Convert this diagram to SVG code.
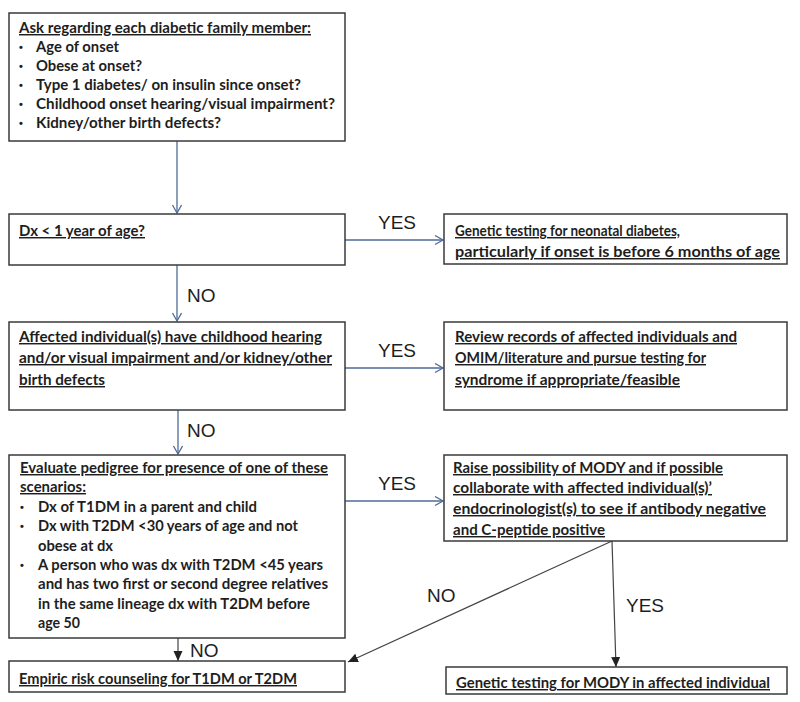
<svg xmlns="http://www.w3.org/2000/svg" width="800" height="702" viewBox="0 0 800 702">
<defs>
<style>
.box{fill:#fff;stroke:#3a3a3a;stroke-width:1.5}
.t{font-family:Lato,"Liberation Sans",sans-serif;font-weight:bold;font-size:14.5px;fill:#1e1e1e}
.b{font-family:"Liberation Sans",Arial,sans-serif;font-weight:bold;font-size:11px;fill:#1e1e1e}
.u{text-decoration:underline}
.lbl{font-family:"Liberation Sans",Arial,sans-serif;font-size:19px;fill:#1e1e1e}
.blue{stroke:#4f6b96;stroke-width:1.3;fill:none}
.dark{stroke:#444;stroke-width:1.2;fill:none}
</style>
<marker id="openA" markerUnits="userSpaceOnUse" markerWidth="12" markerHeight="12" refX="9" refY="5" orient="auto">
<path d="M1,0.5 L9,5 L1,9.5" fill="none" stroke="#4f6b96" stroke-width="1.3"/>
</marker>
<marker id="fillA" markerUnits="userSpaceOnUse" markerWidth="12" markerHeight="12" refX="10" refY="5" orient="auto">
<path d="M0,0.5 L10,5 L0,9.5 Z" fill="#222"/>
</marker>
</defs>
<rect width="800" height="702" fill="#fff"/>

<g id="connectors">
<line class="blue" x1="177" y1="141" x2="177" y2="213" marker-end="url(#openA)"/>
<line class="blue" x1="345" y1="240" x2="443" y2="240" marker-end="url(#openA)"/>
<line class="blue" x1="177" y1="265" x2="177" y2="321" marker-end="url(#openA)"/>
<line class="blue" x1="345" y1="368" x2="443" y2="368" marker-end="url(#openA)"/>
<line class="blue" x1="178" y1="410" x2="178" y2="454" marker-end="url(#openA)"/>
<line class="blue" x1="345" y1="501" x2="443" y2="501" marker-end="url(#openA)"/>
<line class="dark" x1="178" y1="638" x2="178" y2="661" marker-end="url(#fillA)"/>
<line class="dark" x1="612" y1="541" x2="348" y2="662" marker-end="url(#fillA)"/>
<line class="dark" x1="612" y1="541" x2="616" y2="667" marker-end="url(#fillA)"/>
<text class="lbl" x="378" y="229">YES</text>
<text class="lbl" x="378" y="357">YES</text>
<text class="lbl" x="378" y="490">YES</text>
<text class="lbl" x="187" y="302">NO</text>
<text class="lbl" x="187" y="437">NO</text>
<text class="lbl" x="190" y="657">NO</text>
<text class="lbl" x="427" y="602">NO</text>
<text class="lbl" x="626" y="612">YES</text>
</g>

<g id="n1">
<rect class="box" x="9" y="13" width="336" height="128"/>
<text class="t u" x="19" y="33" textLength="292" lengthAdjust="spacingAndGlyphs">Ask regarding each diabetic family member:</text>
<text class="b" x="19" y="51">•</text><text class="t" x="36" y="52" textLength="83" lengthAdjust="spacingAndGlyphs">Age of onset</text>
<text class="b" x="19" y="70">•</text><text class="t" x="36" y="71" textLength="106" lengthAdjust="spacingAndGlyphs">Obese at onset?</text>
<text class="b" x="19" y="89">•</text><text class="t" x="36" y="90" textLength="265" lengthAdjust="spacingAndGlyphs">Type 1 diabetes/ on insulin since onset?</text>
<text class="b" x="19" y="108">•</text><text class="t" x="36" y="109" textLength="299" lengthAdjust="spacingAndGlyphs">Childhood onset hearing/visual impairment?</text>
<text class="b" x="19" y="127">•</text><text class="t" x="36" y="128" textLength="185" lengthAdjust="spacingAndGlyphs">Kidney/other birth defects?</text>
</g>

<g id="n2">
<rect class="box" x="9" y="214" width="336" height="51"/>
<text class="t u" x="19" y="236" textLength="126" lengthAdjust="spacingAndGlyphs">Dx &lt; 1 year of age?</text>
</g>

<g id="n2r">
<rect class="box" x="444" y="214" width="343" height="50"/>
<text class="t u" x="455" y="236" textLength="225" lengthAdjust="spacingAndGlyphs">Genetic testing for neonatal diabetes,</text>
<text class="t u" x="455" y="257" textLength="325" lengthAdjust="spacingAndGlyphs">particularly if onset is before 6 months of age</text>
</g>

<g id="n3">
<rect class="box" x="9" y="322" width="336" height="88"/>
<text class="t u" x="19" y="342" textLength="303" lengthAdjust="spacingAndGlyphs">Affected individual(s) have childhood hearing</text>
<text class="t u" x="19" y="363" textLength="313" lengthAdjust="spacingAndGlyphs">and/or visual impairment and/or kidney/other</text>
<text class="t u" x="19" y="385" textLength="86" lengthAdjust="spacingAndGlyphs">birth defects</text>
</g>

<g id="n3r">
<rect class="box" x="444" y="322" width="343" height="88"/>
<text class="t u" x="455" y="342" textLength="282" lengthAdjust="spacingAndGlyphs">Review records of affected individuals and</text>
<text class="t u" x="455" y="363" textLength="251" lengthAdjust="spacingAndGlyphs">OMIM/literature and pursue testing for</text>
<text class="t u" x="455" y="385" textLength="225" lengthAdjust="spacingAndGlyphs">syndrome if appropriate/feasible</text>
</g>

<g id="n4">
<rect class="box" x="9" y="455" width="336" height="183"/>
<text class="t u" x="20" y="473" textLength="308" lengthAdjust="spacingAndGlyphs">Evaluate pedigree for presence of one of these</text>
<text class="t u" x="20" y="492" textLength="66" lengthAdjust="spacingAndGlyphs">scenarios:</text>
<text class="b" x="20" y="511">•</text><text class="t" x="38" y="512" textLength="219" lengthAdjust="spacingAndGlyphs">Dx of T1DM in a parent and child</text>
<text class="b" x="20" y="530">•</text><text class="t" x="38" y="531" textLength="260" lengthAdjust="spacingAndGlyphs">Dx with T2DM &lt;30 years of age and not</text>
<text class="t" x="38" y="551" textLength="75" lengthAdjust="spacingAndGlyphs">obese at dx</text>
<text class="b" x="20" y="569">•</text><text class="t" x="38" y="570" textLength="285" lengthAdjust="spacingAndGlyphs">A person who was dx with T2DM &lt;45 years</text>
<text class="t" x="38" y="589" textLength="290" lengthAdjust="spacingAndGlyphs">and has two first or second degree relatives</text>
<text class="t" x="38" y="609" textLength="272" lengthAdjust="spacingAndGlyphs">in the same lineage dx with T2DM before</text>
<text class="t" x="38" y="628" textLength="42" lengthAdjust="spacingAndGlyphs">age 50</text>
</g>

<g id="n4r">
<rect class="box" x="444" y="455" width="343" height="86"/>
<text class="t u" x="453" y="473" textLength="270" lengthAdjust="spacingAndGlyphs">Raise possibility of MODY and if possible</text>
<text class="t u" x="453" y="493" textLength="259" lengthAdjust="spacingAndGlyphs">collaborate with affected individual(s)’</text>
<text class="t u" x="453" y="514" textLength="313" lengthAdjust="spacingAndGlyphs">endocrinologist(s) to see if antibody negative</text>
<text class="t u" x="453" y="535" textLength="152" lengthAdjust="spacingAndGlyphs">and C-peptide positive</text>
</g>

<g id="n5">
<rect class="box" x="9" y="661" width="336" height="31"/>
<text class="t u" x="19" y="684" textLength="278" lengthAdjust="spacingAndGlyphs">Empiric risk counseling for T1DM or T2DM</text>
</g>

<g id="n6">
<rect class="box" x="446" y="667" width="341" height="27"/>
<text class="t u" x="456" y="688" textLength="314" lengthAdjust="spacingAndGlyphs">Genetic testing for MODY in affected individual</text>
</g>
</svg>
